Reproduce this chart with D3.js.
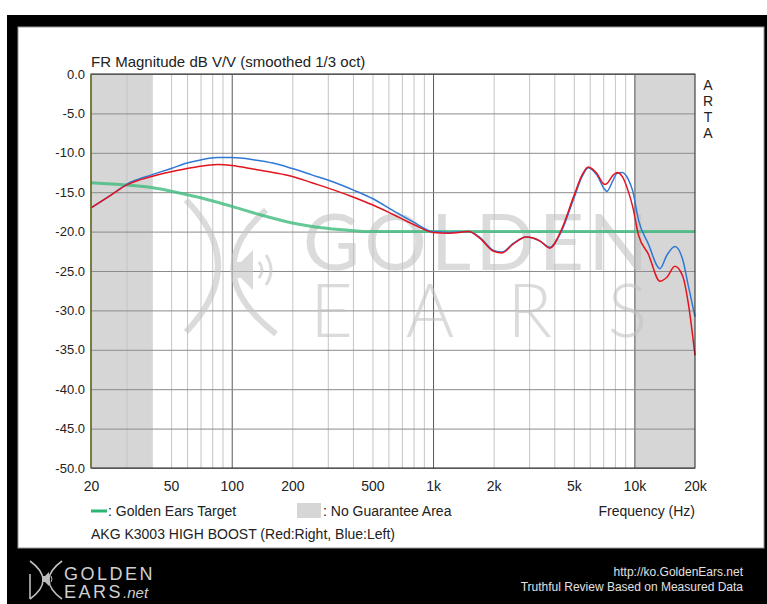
<!DOCTYPE html>
<html>
<head>
<meta charset="utf-8">
<script src="https://cdn.jsdelivr.net/npm/d3@7"></script>
<style>
  body { margin: 0; background: #fff; }
  text { font-family: Arial, "Liberation Sans", sans-serif; }
</style>
</head>
<body>
<div id="chart"></div>
<script>

// measured points (Hz, dB)
var freqs     = [20, 25, 30, 40, 50, 60, 70, 85, 100, 130, 160, 200, 250, 320, 400, 500, 630, 800, 1000, 1200, 1500, 1700, 2000, 2200, 2500, 2900, 3400, 3800, 4300, 5000, 5500, 5900, 6500, 7100, 7300, 7800, 8200, 8700, 9300, 9800, 10500, 11700, 13400, 14500, 15900, 17400, 18500, 20000];
var rightDb   = [-17.0, -15.4, -14.1, -13.0, -12.4, -12.0, -11.7, -11.5, -11.6, -12.1, -12.5, -13.0, -13.8, -14.7, -15.6, -16.6, -17.8, -19.1, -20.1, -20.2, -20.0, -20.8, -22.5, -22.7, -21.6, -20.7, -21.2, -22.1, -20.0, -15.5, -12.8, -11.8, -12.6, -14.0, -13.9, -12.9, -12.5, -13.0, -14.8, -16.8, -20.5, -22.8, -26.3, -25.8, -24.4, -25.7, -29.0, -35.7];
var leftDb    = [-17.0, -15.4, -14.0, -12.8, -12.0, -11.3, -10.9, -10.6, -10.6, -10.9, -11.3, -12.0, -12.8, -13.7, -14.7, -15.8, -17.3, -18.8, -20.0, -20.1, -20.0, -20.7, -22.4, -22.6, -21.5, -20.7, -21.2, -22.0, -20.2, -15.8, -13.0, -11.9, -12.8, -14.6, -14.9, -13.6, -12.6, -12.5, -13.3, -14.8, -18.6, -21.5, -24.7, -23.0, -21.9, -23.6, -26.8, -30.8];

// golden ears target curve
var targetFreqs = [20, 30, 40, 55, 70, 100, 140, 200, 280, 370, 500, 700, 20000];
var targetDb    = [-13.8, -14.1, -14.4, -15.1, -15.7, -16.8, -17.9, -18.9, -19.5, -19.8, -20.0, -20.0, -20.0];

// axes
var xTicks      = [20, 50, 100, 200, 500, 1000, 2000, 5000, 10000, 20000];
var xTickLabels = ["20", "50", "100", "200", "500", "1k", "2k", "5k", "10k", "20k"];
var yTicks      = [0, -5, -10, -15, -20, -25, -30, -35, -40, -45, -50];
var gridFreqs   = [30, 40, 50, 60, 70, 80, 90, 100, 200, 300, 400, 500, 600, 700, 800, 900, 1000, 2000, 3000, 4000, 5000, 6000, 7000, 8000, 9000, 10000];
var decades     = [100, 1000, 10000];
var noGuarantee = [[20, 40], [10000, 20000]];

var svgWidth = 767;
var svgHeight = 604;

var plot = { left: 91, right: 695, top: 74, bottom: 468 };

var svg = d3.select("#chart")
  .append("svg")
  .attr("width", svgWidth)
  .attr("height", svgHeight);

// black frame + white panel
svg.append("rect")
  .attr("x", 7).attr("y", 15)
  .attr("width", svgWidth - 7).attr("height", svgHeight - 15)
  .attr("fill", "#000");

svg.append("rect")
  .attr("x", 18).attr("y", 27)
  .attr("width", 746).attr("height", 521)
  .attr("fill", "#fff")
  .attr("stroke", "#999")
  .attr("stroke-width", 1);

var xScale = d3.scaleLog()
  .domain([20, 20000])
  .range([plot.left, plot.right]);

var yScale = d3.scaleLinear()
  .domain([-50, 0])
  .range([plot.bottom, plot.top]);

var chartHeight = plot.bottom - plot.top;
var chartWidth = plot.right - plot.left;

// grey "no guarantee" zones
svg.selectAll(".zone")
  .data(noGuarantee)
  .enter()
  .append("rect")
  .attr("class", "zone")
  .attr("x", d => xScale(d[0]))
  .attr("y", plot.top)
  .attr("width", d => xScale(d[1]) - xScale(d[0]))
  .attr("height", chartHeight)
  .attr("fill", "#d6d6d6");

// vertical grid
svg.append("g")
  .attr("transform", `translate(0, ${plot.bottom})`)
  .call(d3.axisBottom(xScale).tickValues(gridFreqs).tickSize(-chartHeight).tickFormat(""))
  .call(g => g.select(".domain").remove())
  .selectAll("line")
  .attr("stroke", d => decades.indexOf(d) >= 0 ? "#5a5a5a" : "#c4c4c4")
  .attr("stroke-width", 1);

// horizontal grid
svg.append("g")
  .attr("transform", `translate(${plot.left}, 0)`)
  .call(d3.axisLeft(yScale).tickValues(yTicks).tickSize(-chartWidth).tickFormat(""))
  .call(g => g.select(".domain").remove())
  .selectAll("line")
  .attr("stroke", "#8c8c8c")
  .attr("stroke-width", 1);

// watermark
var mark = svg.append("g").attr("opacity", 0.6).attr("fill", "none").attr("stroke", "#c4c4c4");

mark.append("path")
  .attr("d", "M186,200 Q250,265 186,332")
  .attr("stroke-width", 6);
mark.append("path")
  .attr("d", "M266,210 Q196,272 276,334")
  .attr("stroke-width", 6);
mark.append("path")
  .attr("d", "M234,262 L241,262 L253,250 L253,290 L241,278 L234,278 Z")
  .attr("fill", "#c4c4c4")
  .attr("stroke", "none");
mark.append("path")
  .attr("d", "M259,262 Q265,270 259,278 M266,255 Q276,270 266,285")
  .attr("stroke-width", 3);

mark.append("text")
  .attr("x", 303).attr("y", 270)
  .attr("fill", "#c4c4c4").attr("stroke", "none")
  .style("font-family", "Lato, 'Open Sans', sans-serif")
  .style("font-weight", 400)
  .style("font-size", "78px")
  .attr("textLength", 345)
  .text("GOLDEN");

mark.append("text")
  .attr("x", 310).attr("y", 337)
  .attr("fill", "#c4c4c4").attr("stroke", "none")
  .style("font-family", "Lato, 'Open Sans', sans-serif")
  .style("font-weight", 300)
  .style("font-size", "74px")
  .attr("textLength", 337)
  .text("E A R S");

// curves
var line = d3.line()
  .x(d => xScale(d[0]))
  .y(d => yScale(d[1]))
  .curve(d3.curveMonotoneX);

svg.append("path")
  .datum(targetFreqs.map((f, i) => [f, targetDb[i]]))
  .attr("d", line)
  .attr("fill", "none")
  .attr("stroke", "#3dbb7c")
  .attr("stroke-opacity", 0.8)
  .attr("stroke-width", 3);

svg.append("path")
  .datum(freqs.map((f, i) => [f, leftDb[i]]))
  .attr("d", line)
  .attr("fill", "none")
  .attr("stroke", "#2f78d6")
  .attr("stroke-width", 1.5);

svg.append("path")
  .datum(freqs.map((f, i) => [f, rightDb[i]]))
  .attr("d", line)
  .attr("fill", "none")
  .attr("stroke", "#e3141e")
  .attr("stroke-width", 1.5);

// frame
svg.append("rect")
  .attr("x", plot.left).attr("y", plot.top)
  .attr("width", chartWidth).attr("height", chartHeight)
  .attr("fill", "none")
  .attr("stroke", "#222")
  .attr("stroke-width", 1);

svg.append("line")
  .attr("x1", plot.left).attr("x2", plot.left)
  .attr("y1", plot.top).attr("y2", plot.bottom)
  .attr("stroke", "#6e7d2a")
  .attr("stroke-width", 1.5);

// tick labels
var xAxis = svg.append("g")
  .attr("transform", `translate(0, ${plot.bottom})`)
  .call(d3.axisBottom(xScale).tickValues(xTicks).tickFormat((d, i) => xTickLabels[i]).tickSize(0).tickPadding(13));
xAxis.select(".domain").remove();
xAxis.selectAll("text")
  .style("font-size", "14px")
  .style("font-family", "Arial, 'Liberation Sans', sans-serif")
  .attr("fill", "#222");

var yAxis = svg.append("g")
  .attr("transform", `translate(${plot.left}, 0)`)
  .call(d3.axisLeft(yScale).tickValues(yTicks).tickFormat(d3.format(".1f")).tickSize(0).tickPadding(6));
yAxis.select(".domain").remove();
yAxis.selectAll("text")
  .text(d => d === 0 ? "0.0" : d3.format(".1f")(d).replace("−", "-"))
  .style("font-size", "13px")
  .style("font-family", "Arial, 'Liberation Sans', sans-serif")
  .attr("fill", "#222");

// title
svg.append("text")
  .attr("x", plot.left)
  .attr("y", 67)
  .style("font-size", "15px")
  .attr("fill", "#222")
  .text("FR Magnitude dB V/V (smoothed 1/3 oct)");

// ARTA, stacked
svg.selectAll(".arta")
  .data(["A", "R", "T", "A"])
  .enter()
  .append("text")
  .attr("class", "arta")
  .attr("x", 708)
  .attr("y", (d, i) => 90 + i * 16)
  .attr("text-anchor", "middle")
  .style("font-size", "14px")
  .attr("fill", "#222")
  .text(d => d);

// legend
svg.append("line")
  .attr("x1", 91).attr("x2", 107)
  .attr("y1", 511).attr("y2", 511)
  .attr("stroke", "#2ab573")
  .attr("stroke-width", 3);

svg.append("text")
  .attr("x", 108).attr("y", 516)
  .style("font-size", "14px")
  .attr("fill", "#222")
  .text(": Golden Ears Target");

svg.append("rect")
  .attr("x", 297).attr("y", 503)
  .attr("width", 24).attr("height", 15)
  .attr("fill", "#d6d6d6");

svg.append("text")
  .attr("x", 323).attr("y", 516)
  .style("font-size", "14px")
  .attr("fill", "#222")
  .text(": No Guarantee Area");

svg.append("text")
  .attr("x", plot.right).attr("y", 516)
  .attr("text-anchor", "end")
  .style("font-size", "14px")
  .attr("fill", "#222")
  .text("Frequency (Hz)");

svg.append("text")
  .attr("x", plot.left).attr("y", 539)
  .style("font-size", "14px")
  .attr("fill", "#222")
  .text("AKG K3003 HIGH BOOST (Red:Right, Blue:Left)");

// footer logo
var logo = svg.append("g").attr("fill", "none").attr("stroke", "#bdbdbd").attr("stroke-width", 1.6);
logo.append("path").attr("d", "M30,561 Q56,580 30,599");
logo.append("path").attr("d", "M62,561 Q36,580 62,599");
logo.append("path").attr("d", "M30,574 L30,599");
logo.append("path")
  .attr("d", "M42,576 L45,576 L49,572 L49,586 L45,582 L42,582 Z")
  .attr("fill", "#bdbdbd").attr("stroke", "none");
logo.append("path").attr("d", "M51,576 Q53,579 51,582").attr("stroke-width", 1);

svg.append("text")
  .attr("x", 64).attr("y", 580)
  .style("font-size", "18px")
  .style("letter-spacing", "2.5px")
  .attr("fill", "#d0d0d0")
  .text("GOLDEN");

var ears = svg.append("text")
  .attr("x", 64).attr("y", 598)
  .attr("fill", "#d0d0d0");
ears.append("tspan")
  .style("font-size", "18px")
  .style("letter-spacing", "2.5px")
  .text("EARS");
ears.append("tspan")
  .style("font-size", "15px")
  .style("font-style", "italic")
  .text(".net");

svg.append("text")
  .attr("x", 743).attr("y", 576)
  .attr("text-anchor", "end")
  .style("font-size", "12px")
  .attr("fill", "#e0e0e0")
  .text("http://ko.GoldenEars.net");

svg.append("text")
  .attr("x", 743).attr("y", 591)
  .attr("text-anchor", "end")
  .style("font-size", "12px")
  .attr("fill", "#e0e0e0")
  .text("Truthful Review Based on Measured Data");

</script>
</body>
</html>
